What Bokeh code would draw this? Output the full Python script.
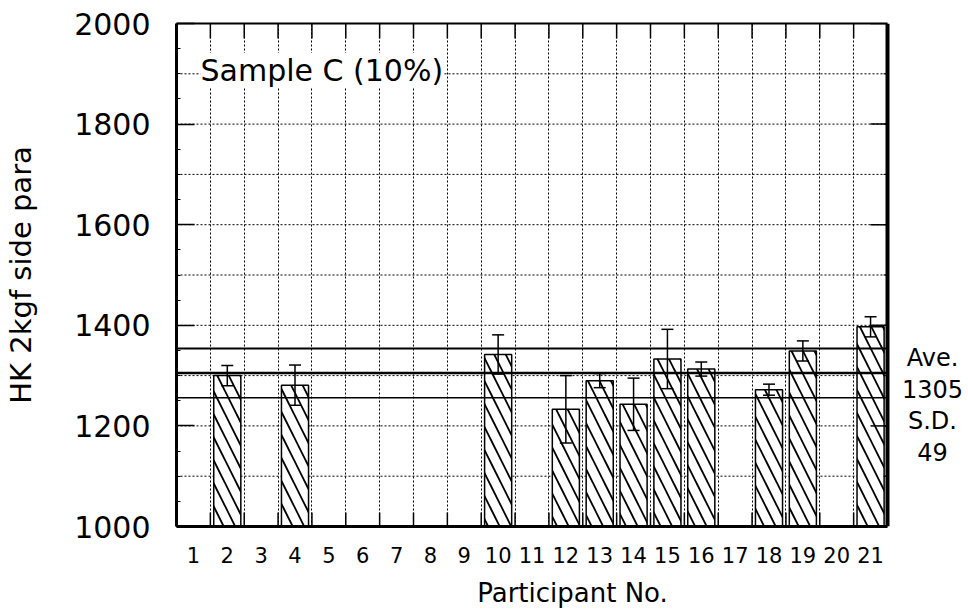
from bokeh.plotting import figure
from bokeh.models import (Range1d, LinearAxis, FixedTicker, Grid, Span, Label,
                          Whisker, TeeHead, ColumnDataSource)
from bokeh.embed import file_html
from bokeh.resources import INLINE

# ---- data ----
participants_all = list(range(1, 22))
participants = [2, 4, 10, 12, 13, 14, 15, 16, 18, 19, 21]
hardness = [1300, 1281, 1342, 1233, 1290, 1243, 1333, 1313, 1272, 1349, 1397]
errors = [20, 40, 39, 67, 14, 52, 59, 14, 11, 20, 20]
mean_value = 1305
sd_value = 49
y_ticks = [1000, 1200, 1400, 1600, 1800, 2000]
y_grid = [1100, 1200, 1300, 1400, 1500, 1600, 1700, 1800, 1900]
title_text = "Sample C (10%)"
x_title = "Participant No."
y_title = "HK 2kgf side para"

FONT = "DejaVu Sans"

# ---- layout (pixels) ----
W, H = 968, 616
BL, BT = 176, 23          # left / top border
PLOT_W, PLOT_H = 711, 503  # visible plot box
FRAME_W = W - BL           # frame extends to the right edge (room for side text)
BB = H - BT - PLOT_H

x_lo = participants_all[0] - 0.5
x_hi = participants_all[-1] + 0.5
px_x = PLOT_W / (x_hi - x_lo)
x_end = x_lo + FRAME_W / px_x
y_lo, y_hi = y_ticks[0], y_ticks[-1]
px_y = PLOT_H / (y_hi - y_lo)

grid_x = [k + 0.5 for k in participants_all[:-1]]

src = ColumnDataSource(dict(
    x=participants,
    top=hardness,
    hi=[v + e for v, e in zip(hardness, errors)],
    lo=[v - e for v, e in zip(hardness, errors)],
))

p = figure(width=W, height=H,
           x_range=Range1d(x_lo, x_end), y_range=Range1d(y_lo, y_hi),
           x_axis_location=None, y_axis_location=None,
           toolbar_location=None, output_backend="svg",
           min_border_left=BL, min_border_right=0,
           min_border_top=BT, min_border_bottom=BB,
           outline_line_color=None,
           background_fill_color="white", border_fill_color="white")

p.center = [r for r in p.center if not isinstance(r, Grid)]

# vertical dotted grid
gx = Grid(dimension=0, ticker=FixedTicker(ticks=grid_x),
          grid_line_color="black", grid_line_dash="2 2", grid_line_width=1)
p.add_layout(gx, "center")

# horizontal dotted grid, limited to the plot box
p.segment(x0=[x_lo] * len(y_grid), x1=[x_hi] * len(y_grid), y0=y_grid, y1=y_grid,
          line_color="black", line_dash="2 2", line_width=1, level="underlay")

# bars
p.vbar(x="x", top="top", bottom=y_lo, width=0.8, source=src,
       fill_color="white", line_color="black", line_width=1.5,
       hatch_pattern="\\", hatch_scale=23, hatch_weight=1.8, hatch_color="black")

# mean and +-SD lines
lines_y = [mean_value + sd_value, mean_value, mean_value - sd_value]
lines_w = [2, 2.5, 1.5]
for yy, lw in zip(lines_y, lines_w):
    p.segment(x0=[x_lo], x1=[x_hi], y0=[yy], y1=[yy], line_color="black", line_width=lw)

# error bars
wh = Whisker(source=src, base="x", upper="hi", lower="lo",
             line_color="black", line_width=1.5,
             upper_head=TeeHead(size=12, line_width=1.5, line_color="black"),
             lower_head=TeeHead(size=12, line_width=1.5, line_color="black"))
wh.level = "annotation"
p.add_layout(wh)

# inner ticks: bottom / top at participant boundaries, right at y ticks
tick_b = 14 / px_y
tick_t = 15 / px_y
p.segment(x0=grid_x, x1=grid_x, y0=[y_lo] * len(grid_x), y1=[y_lo + tick_b] * len(grid_x),
          line_color="black", line_width=1.5)
p.segment(x0=grid_x, x1=grid_x, y0=[y_hi] * len(grid_x), y1=[y_hi - tick_t] * len(grid_x),
          line_color="black", line_width=1.5)
p.segment(x0=[x_hi - 17 / px_x] * len(y_ticks), x1=[x_hi] * len(y_ticks), y0=y_ticks, y1=y_ticks,
          line_color="black", line_width=1.5)
p.segment(x0=[x_hi - 4 / px_x] * len(y_grid), x1=[x_hi] * len(y_grid), y0=y_grid, y1=y_grid,
          line_color="black", line_width=1)

# right border of the plot box
p.add_layout(Span(location=x_hi, dimension="height", line_color="black", line_width=4))

# axes
bottom = LinearAxis(ticker=FixedTicker(ticks=participants_all), bounds=(x_lo, x_hi),
                    major_tick_in=0, major_tick_out=0,
                    minor_tick_in=0, minor_tick_out=0,
                    axis_line_width=3, axis_line_color="black",
                    major_label_text_font=FONT, major_label_text_font_size="21px",
                    major_label_text_color="black", major_label_standoff=20,
                    axis_label=x_title, axis_label_text_font=FONT,
                    axis_label_text_font_size="26px", axis_label_text_font_style="normal",
                    axis_label_text_color="black", axis_label_standoff=12)
left = LinearAxis(ticker=FixedTicker(ticks=y_ticks,
                                     minor_ticks=list(range(y_lo, y_hi + 1, 50))),
                  major_tick_in=18, major_tick_out=0, minor_tick_in=4, minor_tick_out=0,
                  axis_line_width=3, axis_line_color="black",
                  major_tick_line_width=1.5, major_tick_line_color="black",
                  minor_tick_line_color="black",
                  major_label_text_font=FONT, major_label_text_font_size="30px",
                  major_label_text_color="black", major_label_standoff=26,
                  axis_label=y_title, axis_label_text_font=FONT,
                  axis_label_text_font_size="29px", axis_label_text_font_style="normal",
                  axis_label_text_color="black", axis_label_standoff=33)
top = LinearAxis(ticker=FixedTicker(ticks=[]), bounds=(x_lo, x_hi),
                 major_tick_in=0, major_tick_out=0, minor_tick_in=0, minor_tick_out=0,
                 axis_line_width=2, axis_line_color="black", major_label_standoff=0)
p.add_layout(bottom, "below")
p.add_layout(left, "left")
p.add_layout(top, "above")

# texts
p.add_layout(Label(x=24, y=PLOT_H - 47, x_units="screen", y_units="screen", text=title_text,
                   text_font=FONT, text_font_size="30px", text_color="black",
                   text_align="left", text_baseline="middle",
                   background_fill_color="white"))
p.add_layout(Label(x=PLOT_W + 45, y=121, x_units="screen", y_units="screen",
                   text="Ave.\n%d\nS.D.\n%d" % (mean_value, sd_value),
                   text_font=FONT, text_font_size="24px", text_color="black",
                   text_align="center", text_baseline="middle", text_line_height=1.13))

open("out.html", "w").write(file_html(p, INLINE))
